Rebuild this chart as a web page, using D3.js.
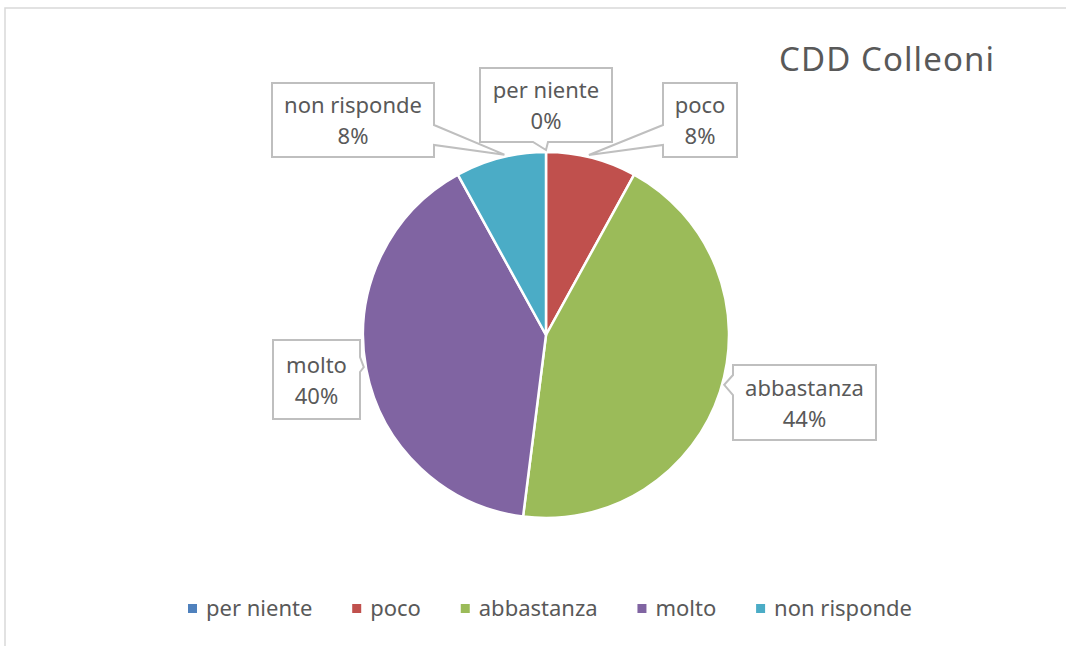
<!DOCTYPE html>
<html>
<head>
<meta charset="utf-8">
<script src="https://cdn.jsdelivr.net/npm/d3@7"></script>
<style>
  body { margin: 0; background: #fff; }
  svg { display: block; font-family: "Noto Sans", "Open Sans", sans-serif; }
</style>
</head>
<body>
<svg id="chart" width="1066" height="646"></svg>
<script>
// data (answers out of 25)
var categories = ["per niente", "poco", "abbastanza", "molto", "non risponde"];
var counts = [0, 2, 11, 10, 2];
var colors = ["#4F81BD", "#C0504D", "#9BBB59", "#8064A2", "#4BACC6"];
var title = "CDD Colleoni";

// callout layout: box rect, side of pointer, pointer base range, tip angle (deg)
var callouts = [
  {x: 480, y: 68, w: 132, h: 74, side: "bottom", b0: 533, b1: 548, tip: 0},
  {x: 663, y: 83, w: 74, h: 74, side: "left", b0: 125, b1: 145, tip: 13.4},
  {x: 733, y: 365, w: 143, h: 75, side: "left", b0: 375, b1: 395, tip: 105.6},
  {x: 273, y: 340, w: 87, h: 79, side: "right", b0: 357, b1: 372, tip: 260},
  {x: 272, y: 83, w: 162, h: 74, side: "right", b0: 125, b1: 145, tip: -13}
];

var svg = d3.select("#chart");
var cx = 546, cy = 335, r = 183;
var textColor = "#595959";

// frame
svg.append("path")
  .attr("d", "M5,646 V8 H1066")
  .attr("fill", "none")
  .attr("stroke", "#d9d9d9")
  .attr("stroke-width", 1.5);

var total = d3.sum(counts);
var pie = d3.pie().sort(null).value(function(d) { return d; });
var arc = d3.arc().innerRadius(0).outerRadius(r);
var arcs = pie(counts);

var g = svg.append("g").attr("transform", "translate(" + cx + "," + cy + ")");
g.selectAll("path.slice")
  .data(arcs)
  .enter().append("path")
  .attr("class", "slice")
  .attr("d", arc)
  .attr("fill", function(d, i) { return colors[i]; })
  .attr("stroke", "#fff")
  .attr("stroke-width", 2.5)
  .attr("stroke-linejoin", "round");

// title
svg.append("text")
  .attr("x", 994).attr("y", 71)
  .attr("text-anchor", "end")
  .attr("font-size", 33)
  .attr("textLength", 215)
  .attr("lengthAdjust", "spacing")
  .attr("fill", textColor)
  .text(title);

// callouts
function calloutPath(c, tx, ty) {
  var x0 = c.x, y0 = c.y, x1 = c.x + c.w, y1 = c.y + c.h;
  if (c.side === "right")
    return "M" + x0 + "," + y0 + "H" + x1 + "V" + c.b0 + "L" + tx + "," + ty + "L" + x1 + "," + c.b1 + "V" + y1 + "H" + x0 + "Z";
  if (c.side === "left")
    return "M" + x0 + "," + y0 + "H" + x1 + "V" + y1 + "H" + x0 + "V" + c.b1 + "L" + tx + "," + ty + "L" + x0 + "," + c.b0 + "Z";
  // bottom
  return "M" + x0 + "," + y0 + "H" + x1 + "V" + y1 + "H" + c.b1 + "L" + tx + "," + ty + "L" + c.b0 + "," + y1 + "H" + x0 + "Z";
}

var labels = svg.selectAll("g.callout")
  .data(arcs)
  .enter().append("g")
  .attr("class", "callout");

labels.append("path")
  .attr("d", function(d, i) {
    var c = callouts[i];
    var a = c.tip * Math.PI / 180;
    var tx = cx + (r + 2) * Math.sin(a), ty = cy - (r + 2) * Math.cos(a);
    return calloutPath(c, tx.toFixed(1), ty.toFixed(1));
  })
  .attr("fill", "#fff")
  .attr("stroke", "#bfbfbf")
  .attr("stroke-width", 2);

labels.append("text")
  .attr("text-anchor", "middle")
  .attr("font-size", 22)
  .attr("fill", textColor)
  .each(function(d, i) {
    var c = callouts[i];
    var t = d3.select(this);
    var mx = c.x + c.w / 2, my = c.y + c.h / 2;
    t.append("tspan").attr("x", mx).attr("y", my - 7).text(categories[i]);
    t.append("tspan").attr("x", mx).attr("y", my + 24)
      .text(d3.format(".0%")(counts[i] / total));
  });

// legend
var legend = svg.append("g");
var items = legend.selectAll("g")
  .data(categories)
  .enter().append("g");
items.append("rect")
  .attr("width", 9).attr("height", 9)
  .attr("y", 604)
  .attr("fill", function(d, i) { return colors[i]; });
items.append("text")
  .attr("x", 18).attr("y", 616)
  .attr("font-size", 22)
  .attr("fill", textColor)
  .text(function(d) { return d; });

// spread the items between x=188 and x=912
var widths = [];
items.each(function() {
  widths.push(18 + this.querySelector("text").getComputedTextLength());
});
var gap = (912 - 188 - d3.sum(widths)) / (widths.length - 1);
var xpos = 188, offs = [];
widths.forEach(function(w) { offs.push(xpos); xpos += w + gap; });
items.attr("transform", function(d, i) { return "translate(" + offs[i] + ",0)"; });
</script>
</body>
</html>
